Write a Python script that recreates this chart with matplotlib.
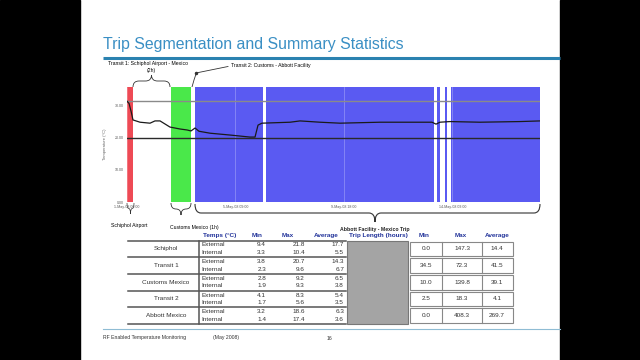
import matplotlib
matplotlib.use("Agg")
import matplotlib.pyplot as plt
from matplotlib.patches import Rectangle, PathPatch
from matplotlib.path import Path

plt.rcParams['font.family'] = ['Liberation Sans', 'DejaVu Sans']

# Temperature trace (hours since start, degC)
hours = [0, 2.0, 4.0, 5.8, 12.6, 22.3, 27.1, 32.0, 41.6, 51.3,
         58.1, 62.0, 65.9, 69.7, 80.4, 100.7, 119.1, 124.0, 126.9, 130.7,
         158.0, 167.6, 186.9, 206.3, 245.0, 283.8, 295.4, 299.3, 303.1, 312.8,
         341.9, 380.6, 400]
temp = [31.2, 30.5, 28.0, 25.4, 24.7, 24.4, 25.1, 25.1, 23.2, 22.6,
        22.3, 22.0, 22.9, 21.9, 21.3, 20.7, 20.1, 20.1, 23.8, 24.4,
        24.7, 25.1, 24.7, 24.4, 24.7, 24.7, 24.7, 24.1, 24.7, 24.9,
        24.7, 24.9, 25.1]
limits = [31.2, 19.8]
limit_colors = ['#8a8a8a', '#2a2a2a']

# Trip segments shaded in the chart (start hour, end hour)
red_spans = [(0, 5.8)]
green_spans = [(42.6, 62.0)]
blue_spans = [(65.9, 131.7), (134.6, 297.3), (300.2, 303.1), (308.0, 310.0), (313.7, 400)]

xticks = [0, 105, 210, 315]
xtick_labels = ['1-May-08 00:00', '5-May-08 09:00', '9-May-08 18:00', '14-May-08 03:00']
yticks = [0, 10, 20, 30]

# Summary table
segments = ['Schiphol', 'Transit 1', 'Customs Mexico', 'Transit 2', 'Abbott Mexico']
ext_min = [9.4, 3.8, 2.8, 4.1, 3.2]
ext_max = [21.8, 20.7, 9.2, 8.3, 18.6]
ext_avg = [17.7, 14.3, 6.5, 5.4, 6.3]
int_min = [3.3, 2.3, 1.9, 1.7, 1.4]
int_max = [10.4, 9.6, 9.3, 5.6, 17.4]
int_avg = [5.5, 6.7, 3.8, 3.5, 3.6]
trip_min = [0.0, 34.5, 10.0, 2.5, 0.0]
trip_max = [147.3, 72.3, 139.8, 18.3, 408.3]
trip_avg = [14.4, 41.5, 39.1, 4.1, 269.7]

fig = plt.figure(figsize=(6.4, 3.6), dpi=100)

# Background layer in pixel coordinates
bg = fig.add_axes([0, 0, 1, 1])
bg.set_xlim(0, 640)
bg.set_ylim(360, 0)
bg.axis('off')
bg.add_patch(Rectangle((0, 0), 80, 360, color='black'))
bg.add_patch(Rectangle((560, 0), 80, 360, color='black'))

# Title
bg.text(103, 44, 'Trip Segmentation and Summary Statistics', fontsize=11.4,
        color='#3a8fc4', va='center', ha='left')
bg.plot([103, 560], [57.5, 57.5], color='#2b82b0', lw=2.2, solid_capstyle='butt')


def brace(x0, x1, y0, ytip, xtip=None, lw=0.6):
    if xtip is None:
        xtip = (x0 + x1) / 2
    ym = (y0 + ytip) / 2
    r0 = min(6, (xtip - x0) / 2)
    r1 = min(6, (x1 - xtip) / 2)
    verts = [(x0, y0), (x0, ym), (x0 + r0, ym),
             (xtip - r0, ym),
             (xtip, ym), (xtip, ytip),
             (xtip, ym), (xtip + r1, ym),
             (x1 - r1, ym),
             (x1, ym), (x1, y0)]
    codes = [Path.MOVETO, Path.CURVE3, Path.CURVE3,
             Path.LINETO,
             Path.CURVE3, Path.CURVE3,
             Path.CURVE3, Path.CURVE3,
             Path.LINETO,
             Path.CURVE3, Path.CURVE3]
    bg.add_patch(PathPatch(Path(verts, codes), fill=False, lw=lw, ec='#333333'))


small = 3.7
tsize = 4.6
# Top annotations
bg.text(108, 64, 'Transit 1: Schiphol Airport - Mexico', fontsize=small, ha='left', va='center')
bg.text(151, 70.5, '(2h)', fontsize=small, ha='center', va='center')
brace(133, 170, 87, 75)
bg.plot([192, 194, 196], [87, 80, 74], color='#333333', lw=0.6)
bg.plot([196, 228], [73, 66.5], color='#333333', lw=0.6)
bg.plot([196], [73], marker='o', ms=1.5, color='#333333')
bg.text(231, 66, 'Transit 2: Customs - Abbott Facility', fontsize=small, ha='left', va='center')

# Bottom annotations
brace(127, 134, 203, 214, lw=0.5)
bg.text(129, 225, 'Schiphol Airport', fontsize=small, ha='center', va='center')
brace(171, 191, 203, 215)
bg.text(194, 228, 'Customs Mexico (1h)', fontsize=small, ha='center', va='center')
brace(195, 540, 204, 222, xtip=375, lw=0.8)

# Chart
ax = fig.add_axes([127 / 640, (360 - 202) / 360, 413 / 640, 115 / 360])
for s, e in red_spans:
    ax.axvspan(s, e, color='#ee4a55', lw=0)
for s, e in green_spans:
    ax.axvspan(s, e, color='#4ae84a', lw=0)
for s, e in blue_spans:
    ax.axvspan(s, e, color='#5a5af2', lw=0)
for lim, c in zip(limits, limit_colors):
    ax.axhline(lim, color=c, lw=1.0)
ax.plot(hours, temp, color='#1a1a1a', lw=0.9)
ax.set_xlim(0, 400)
ax.set_ylim(0, 35.6)
ax.set_xticks(xticks)
ax.set_xticklabels(xtick_labels, fontsize=2.6, color='#555555')
ax.set_yticks(yticks)
ax.set_yticklabels([f'{v:.2f}' for v in yticks], fontsize=2.6, color='#555555')
ax.tick_params(length=0, pad=2)
ax.set_ylabel('Temperature (\u00b0C)', fontsize=3, color='#666666', labelpad=6)
ax.grid(axis='x', color='white', alpha=0.35, lw=0.5)
for sp in ax.spines.values():
    sp.set_visible(False)

# Table
hdr_color = '#22339a'
bg.text(375, 229.5, 'Abbott Facility - Mexico Trip', fontsize=small, ha='center', va='center',
        color='#222222', fontweight='bold')
headers = [(220, 'Temps (\u00b0C)'), (257, 'Min'), (288, 'Max'), (326, 'Average'),
           (378, 'Trip Length (hours)'), (424, 'Min'), (461, 'Max'), (497, 'Average')]
for hx, h in headers:
    bg.text(hx, 235.5, h, fontsize=tsize, ha='center', va='center', color=hdr_color,
            fontweight='bold')

row_h = 16.7
top = 240.5
bg.plot([128, 346], [top, top], color='#555555', lw=1.1)
bg.plot([199, 199], [top, top + 5 * row_h], color='#555555', lw=1.1)
bg.add_patch(Rectangle((347, top), 61, 5 * row_h, fc='#a4a4a4', ec='#777777', lw=0.8))
for i, name in enumerate(segments):
    y0 = top + i * row_h
    bg.plot([128, 346], [y0 + row_h, y0 + row_h], color='#555555', lw=1.1)
    bg.text(166, y0 + row_h / 2, name, fontsize=tsize, ha='center', va='center', color='#333333')
    ye = y0 + 4.5
    yi = y0 + 12
    bg.text(201, ye, 'External', fontsize=tsize, ha='left', va='center', color='#333333')
    bg.text(201, yi, 'Internal', fontsize=tsize, ha='left', va='center', color='#333333')
    for xr, vals_e, vals_i in [(266, ext_min, int_min), (305, ext_max, int_max), (344, ext_avg, int_avg)]:
        bg.text(xr, ye, f'{vals_e[i]:.1f}', fontsize=tsize, ha='right', va='center', color='#333333')
        bg.text(xr, yi, f'{vals_i[i]:.1f}', fontsize=tsize, ha='right', va='center', color='#333333')
    bg.add_patch(Rectangle((410, y0 + 1), 103, row_h - 2, fc='white', ec='#888888', lw=0.8))
    for xv in [442, 482]:
        bg.plot([xv, xv], [y0 + 1, y0 + row_h - 1], color='#888888', lw=0.8)
    for xc, vals in [(426, trip_min), (462, trip_max), (497, trip_avg)]:
        bg.text(xc, y0 + row_h / 2, f'{vals[i]:.1f}', fontsize=tsize, ha='center', va='center',
                color='#333333')

# Footer
bg.plot([103, 560], [329, 329], color='#8fbcd4', lw=0.8)
bg.text(103, 338, 'RF Enabled Temperature Monitoring', fontsize=small, ha='left', va='center',
        color='#333333')
bg.text(213, 338, '(May 2008)', fontsize=small, ha='left', va='center', color='#333333')
bg.text(327, 338, '16', fontsize=small, ha='left', va='center', color='#333333')

fig.savefig('out.png', dpi=100)
